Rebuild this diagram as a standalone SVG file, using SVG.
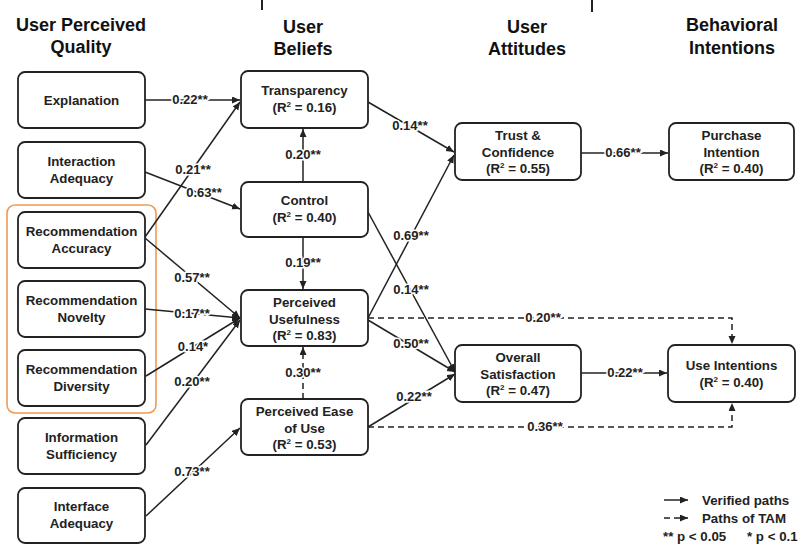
<svg xmlns="http://www.w3.org/2000/svg" width="799" height="545" viewBox="0 0 799 545">
<defs>
<marker id="ah" markerUnits="userSpaceOnUse" markerWidth="9" markerHeight="8" refX="8" refY="3.5" orient="auto">
<path d="M0,0 L8,3.5 L0,7 z" fill="#222"/>
</marker>
<style>
.bx{fill:#fff;stroke:#222;stroke-width:1.8}
.t{font-family:"Liberation Sans",Arial,sans-serif;font-weight:bold;font-size:13.3px;fill:#222;text-anchor:middle}
.h{font-family:"Liberation Sans",Arial,sans-serif;font-weight:bold;font-size:18px;fill:#111;text-anchor:middle}
.ln{fill:none;stroke:#222;stroke-width:1.5;marker-end:url(#ah)}
.dl{fill:none;stroke:#222;stroke-width:1.5;stroke-dasharray:6 4;marker-end:url(#ah)}
.lb{font-family:"Liberation Sans",Arial,sans-serif;font-weight:bold;font-size:13px;fill:#222;text-anchor:middle;stroke:#fff;stroke-width:3px;paint-order:stroke}
.sp{font-size:8px}
.lg{font-family:"Liberation Sans",Arial,sans-serif;font-weight:bold;font-size:13.3px;fill:#222}
</style>
</defs>
<rect width="799" height="545" fill="#fff"/>
<line x1="262" y1="0" x2="262" y2="10" stroke="#222" stroke-width="2"/>
<line x1="592" y1="0" x2="592" y2="12" stroke="#222" stroke-width="2"/>
<g id="headers">
<text class="h" x="81" y="31">User Perceived</text>
<text class="h" x="81" y="53">Quality</text>
<text class="h" x="303" y="33">User</text>
<text class="h" x="303" y="55">Beliefs</text>
<text class="h" x="527" y="33">User</text>
<text class="h" x="527" y="55">Attitudes</text>
<text class="h" x="732" y="31">Behavioral</text>
<text class="h" x="732" y="54">Intentions</text>
</g>
<rect id="rec-group" x="7" y="205" width="149" height="208" rx="8" fill="none" stroke="#ef9a55" stroke-width="1.6"/>
<g id="connectors">
<path class="ln" d="M145,100 L240,100"/>
<path class="ln" d="M145,237 L240,102"/>
<path class="ln" d="M145,172 L240,209"/>
<path class="ln" d="M145,238 L240,318"/>
<path class="ln" d="M145,309 L240,318"/>
<path class="ln" d="M146,376 L240,318"/>
<path class="ln" d="M146,445 L240,320"/>
<path class="ln" d="M146,516 L240,428"/>
<path class="ln" d="M303,182 L303,129"/>
<path class="ln" d="M303,237 L303,289"/>
<path class="dl" d="M303,399 L303,347"/>
<path class="ln" d="M368,102 L454,152"/>
<path class="ln" d="M368,318 L454,155"/>
<path class="ln" d="M368,212 L455,372"/>
<path class="ln" d="M368,320 L455,372"/>
<path class="ln" d="M368,427 L455,374"/>
<path class="dl" d="M368,318 H732 V344"/>
<path class="dl" d="M368,427 H732 V403"/>
<path class="ln" d="M581,153 L668,153"/>
<path class="ln" d="M581,373 L667,373"/>
<text class="lb" x="190" y="104">0.22**</text>
<text class="lb" x="193" y="174">0.21**</text>
<text class="lb" x="204" y="197">0.63**</text>
<text class="lb" x="192" y="282">0.57**</text>
<text class="lb" x="192" y="318">0.17**</text>
<text class="lb" x="193" y="351">0.14*</text>
<text class="lb" x="192" y="386">0.20**</text>
<text class="lb" x="192" y="476">0.73**</text>
<text class="lb" x="303" y="159">0.20**</text>
<text class="lb" x="303" y="267">0.19**</text>
<text class="lb" x="303" y="377">0.30**</text>
<text class="lb" x="410" y="130">0.14**</text>
<text class="lb" x="411" y="240">0.69**</text>
<text class="lb" x="411" y="294">0.14**</text>
<text class="lb" x="411" y="348">0.50**</text>
<text class="lb" x="414" y="401">0.22**</text>
<text class="lb" x="543" y="322">0.20**</text>
<text class="lb" x="545" y="431">0.36**</text>
<text class="lb" x="623" y="157">0.66**</text>
<text class="lb" x="625" y="377">0.22**</text>
</g>
<g id="explanation"><rect class="bx" x="18" y="72" width="127" height="56" rx="7"/><text class="t" x="81.5" y="105">Explanation</text></g>
<g id="interaction-adequacy"><rect class="bx" x="18" y="142" width="127" height="56" rx="7"/><text class="t" x="81.5" y="166">Interaction</text><text class="t" x="81.5" y="183">Adequacy</text></g>
<g id="recommendation-accuracy"><rect class="bx" x="18" y="212" width="127" height="56" rx="7"/><text class="t" x="81.5" y="236">Recommendation</text><text class="t" x="81.5" y="253">Accuracy</text></g>
<g id="recommendation-novelty"><rect class="bx" x="18" y="281" width="127" height="56" rx="7"/><text class="t" x="81.5" y="305">Recommendation</text><text class="t" x="81.5" y="322">Novelty</text></g>
<g id="recommendation-diversity"><rect class="bx" x="18" y="350" width="127" height="56" rx="7"/><text class="t" x="81.5" y="374">Recommendation</text><text class="t" x="81.5" y="391">Diversity</text></g>
<g id="information-sufficiency"><rect class="bx" x="18" y="418" width="127" height="56" rx="7"/><text class="t" x="81.5" y="442">Information</text><text class="t" x="81.5" y="459">Sufficiency</text></g>
<g id="interface-adequacy"><rect class="bx" x="18" y="488" width="127" height="55" rx="7"/><text class="t" x="81.5" y="511">Interface</text><text class="t" x="81.5" y="528">Adequacy</text></g>
<g id="transparency"><rect class="bx" x="241" y="71" width="127" height="57" rx="7"/><text class="t" x="304.5" y="95">Transparency</text><text class="t" x="304.5" y="112">(R<tspan class="sp" dy="-5">2</tspan><tspan dy="5"> = 0.16)</tspan></text></g>
<g id="control"><rect class="bx" x="241" y="182" width="127" height="55" rx="7"/><text class="t" x="304.5" y="205">Control</text><text class="t" x="304.5" y="222">(R<tspan class="sp" dy="-5">2</tspan><tspan dy="5"> = 0.40)</tspan></text></g>
<g id="perceived-usefulness"><rect class="bx" x="241" y="290" width="127" height="56" rx="7"/><text class="t" x="304.5" y="307">Perceived</text><text class="t" x="304.5" y="323.5">Usefulness</text><text class="t" x="304.5" y="340">(R<tspan class="sp" dy="-5">2</tspan><tspan dy="5"> = 0.83)</tspan></text></g>
<g id="perceived-ease-of-use"><rect class="bx" x="241" y="399" width="127" height="56" rx="7"/><text class="t" x="304.5" y="416">Perceived Ease</text><text class="t" x="304.5" y="432.5">of Use</text><text class="t" x="304.5" y="449">(R<tspan class="sp" dy="-5">2</tspan><tspan dy="5"> = 0.53)</tspan></text></g>
<g id="trust-confidence"><rect class="bx" x="455" y="123" width="126" height="57" rx="7"/><text class="t" x="518" y="140">Trust &amp;</text><text class="t" x="518" y="157">Confidence</text><text class="t" x="518" y="173">(R<tspan class="sp" dy="-5">2</tspan><tspan dy="5"> = 0.55)</tspan></text></g>
<g id="purchase-intention"><rect class="bx" x="669" y="123" width="125" height="57" rx="7"/><text class="t" x="731.5" y="140">Purchase</text><text class="t" x="731.5" y="157">Intention</text><text class="t" x="731.5" y="173">(R<tspan class="sp" dy="-5">2</tspan><tspan dy="5"> = 0.40)</tspan></text></g>
<g id="overall-satisfaction"><rect class="bx" x="455" y="345" width="126" height="57" rx="7"/><text class="t" x="518" y="362">Overall</text><text class="t" x="518" y="379">Satisfaction</text><text class="t" x="518" y="395">(R<tspan class="sp" dy="-5">2</tspan><tspan dy="5"> = 0.47)</tspan></text></g>
<g id="use-intentions"><rect class="bx" x="668" y="345" width="127" height="57" rx="7"/><text class="t" x="731.5" y="370">Use Intentions</text><text class="t" x="731.5" y="387">(R<tspan class="sp" dy="-5">2</tspan><tspan dy="5"> = 0.40)</tspan></text></g>
<g id="legend">
<path class="ln" d="M664,500 L688,500"/>
<text class="lg" x="702" y="505">Verified paths</text>
<path class="dl" d="M664,518 L688,518" stroke-dasharray="5 3"/>
<text class="lg" x="702" y="523">Paths of TAM</text>
<text class="lg" x="663" y="541">** p &lt; 0.05</text>
<text class="lg" x="747" y="541">* p &lt; 0.1</text>
</g>
</svg>
